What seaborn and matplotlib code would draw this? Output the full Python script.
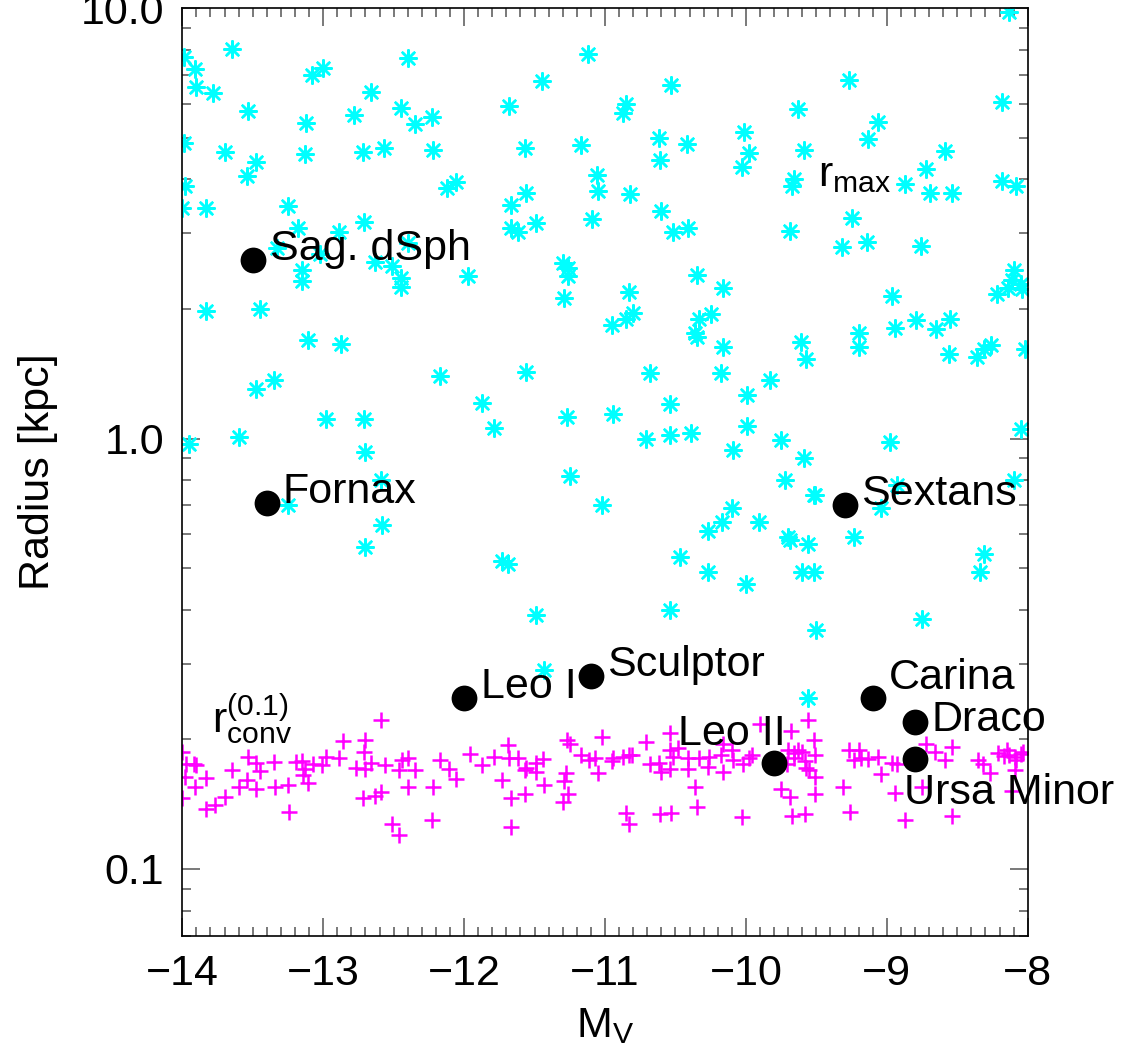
import numpy as np
import pandas as pd
import matplotlib
matplotlib.use("Agg")
import matplotlib.pyplot as plt
from matplotlib.ticker import MultipleLocator, LogLocator, FormatStrFormatter, NullFormatter
import seaborn as sns

# Halo r_max values: absolute magnitude M_V and radius in kpc
rmax_mv = [
    -13.99, -13.91, -13.65, -13.90, -13.78, -13.53, -13.08, -13.00, -12.40, -12.66,
    -13.12, -12.78, -12.45, -12.35, -12.23, -13.99, -13.70, -13.48, -13.54, -13.13,
    -12.72, -12.57, -12.22, -13.98, -14.00, -13.83, -13.25, -12.12, -12.06, -13.18,
    -12.89, -12.71, -13.33, -13.02, -12.40, -12.63, -12.51, -13.15, -13.15, -12.45,
    -12.45, -11.97, -13.83, -13.45, -13.11, -12.87,
    -11.12, -11.45, -10.53, -11.68, -10.85, -10.87, -10.01, -11.57, -11.17, -10.62,
    -10.42, -10.61, -9.98, -10.03, -11.06, -11.05, -11.56, -11.67, -10.82, -10.60,
    -11.67, -11.62, -11.49, -11.09, -10.52, -10.41, -11.30, -11.26, -11.26, -11.29,
    -10.83, -10.35, -10.16, -10.95, -10.85, -10.80, -10.33, -10.25, -10.36, -10.35,
    -10.16,
    -8.13, -9.27, -9.63, -8.18, -9.06, -9.13, -9.59, -8.59, -9.66, -9.67,
    -8.72, -8.87, -8.69, -8.54, -8.18, -8.08, -9.25, -9.69, -9.32, -9.14,
    -8.76, -8.96, -8.10, -8.11, -8.05, -8.14, -8.22, -8.04, -9.61, -9.57,
    -9.20, -9.20, -8.94, -8.79, -8.55, -8.65, -8.56, -8.36, -8.31, -8.26,
    -8.02,
    -13.35, -13.48, -12.17, -12.98, -12.71, -13.60, -13.95, -12.70, -12.59, -13.25,
    -12.58, -12.70,
    -11.56, -10.68, -10.18, -11.87, -11.79, -11.27, -10.94, -10.54, -10.71, -10.54,
    -10.39, -9.99, -9.99, -10.09, -11.25, -11.02, -10.10, -10.17, -10.27, -11.73,
    -11.69, -10.47, -10.27, -10.00, -11.49, -10.54, -11.43,
    -9.83, -9.75, -8.98, -9.59, -8.05, -9.72, -9.52, -9.51, -8.93, -9.04,
    -8.10, -9.91, -9.70, -9.69, -9.56, -9.23, -8.31, -8.34, -9.60, -9.52,
    -8.75, -9.50, -9.56,
]
rmax_kpc = [
    7.71, 7.21, 8.03, 6.57, 6.34, 5.77, 6.99, 7.24, 7.66, 6.37,
    5.40, 5.64, 5.87, 5.38, 5.59, 4.85, 4.64, 4.40, 4.08, 4.58,
    4.64, 4.72, 4.68, 3.85, 3.43, 3.44, 3.47, 3.81, 3.95, 3.09,
    3.02, 3.19, 2.77, 2.69, 2.84, 2.57, 2.51, 2.46, 2.32, 2.36,
    2.25, 2.38, 1.98, 2.00, 1.69, 1.66,
    7.81, 6.78, 6.62, 5.92, 5.97, 5.71, 5.16, 4.74, 4.81, 5.00,
    4.82, 4.44, 4.60, 4.28, 4.09, 3.76, 3.72, 3.49, 3.70, 3.38,
    3.09, 3.01, 3.16, 3.24, 3.01, 3.09, 2.55, 2.49, 2.39, 2.12,
    2.19, 2.40, 2.24, 1.84, 1.90, 1.96, 1.89, 1.95, 1.76, 1.72,
    1.63,
    9.80, 6.80, 5.83, 6.06, 5.44, 4.96, 4.68, 4.66, 4.01, 3.86,
    4.23, 3.90, 3.72, 3.72, 3.96, 3.85, 3.26, 3.03, 2.79, 2.86,
    2.80, 2.14, 2.46, 2.33, 2.29, 2.24, 2.17, 2.22, 1.68, 1.53,
    1.76, 1.63, 1.81, 1.88, 1.89, 1.80, 1.57, 1.55, 1.61, 1.65,
    1.61,
    1.37, 1.30, 1.40, 1.11, 1.11, 1.01, 0.97, 0.93, 0.80, 0.70,
    0.63, 0.56,
    1.43, 1.42, 1.42, 1.21, 1.06, 1.12, 1.14, 1.20, 1.00, 1.02,
    1.03, 1.26, 1.07, 0.94, 0.82, 0.70, 0.69, 0.64, 0.61, 0.52,
    0.51, 0.53, 0.49, 0.46, 0.39, 0.40, 0.29,
    1.37, 0.99, 0.98, 0.90, 1.05, 0.80, 0.74, 0.74, 0.78, 0.69,
    0.80, 0.64, 0.59, 0.58, 0.57, 0.59, 0.54, 0.49, 0.49, 0.49,
    0.38, 0.36, 0.25,
]

# Convergence radii r_conv^(0.1): M_V and radius in kpc
rconv_mv = [
    -14.00, -13.97, -13.92, -13.90, -13.98, -13.83, -13.91, -14.00, -13.83, -13.77,
    -13.70, -13.65, -13.60, -13.54, -13.53, -13.48, -13.45, -13.48, -13.35, -13.34,
    -13.25, -13.24, -13.19, -13.15, -13.13, -13.14, -13.11, -13.07, -13.01, -12.98,
    -12.89, -12.86, -12.77, -12.70, -12.71, -12.70, -12.66, -12.59, -12.56, -12.72,
    -12.63, -12.59, -12.51, -12.46, -12.46, -12.44, -12.40, -12.40, -12.35, -12.22,
    -12.23, -12.17, -12.11, -12.06,
    -11.96, -11.87, -11.79, -11.69, -11.68, -11.62, -11.56, -11.49, -11.44, -11.49,
    -11.57, -11.73, -11.67, -11.57, -11.67, -11.43, -11.27, -11.25, -11.28, -11.29,
    -11.26, -11.30, -11.02, -11.17, -11.11, -11.07, -11.05, -10.95, -10.94, -10.87,
    -10.83, -10.81, -10.71, -10.68, -10.62, -10.60, -10.54, -10.54, -10.54, -10.48,
    -10.52, -10.41, -10.41, -10.33, -10.27, -10.26, -10.18, -10.16, -10.10, -10.09,
    -10.02, -10.36, -10.35, -10.85, -10.83, -10.61, -10.53, -10.03, -10.16,
    -9.90, -9.98, -9.96, -9.68, -9.56, -9.52, -9.70, -9.66, -9.63, -9.60,
    -9.66, -9.58, -9.51, -9.57, -9.55, -9.51, -9.75, -9.69, -9.51, -9.67,
    -9.58, -9.71, -9.31, -9.26, -9.27, -9.20, -9.23, -9.18, -9.13, -9.06,
    -9.04, -8.96, -8.93, -8.94, -8.87, -8.72, -8.75, -8.66, -8.59, -8.54,
    -8.54, -8.35, -8.32, -8.27, -8.21, -8.15, -8.13, -8.09, -8.05, -8.08,
    -8.09, -8.11, -8.03, -8.17,
]
rconv_kpc = [
    0.187, 0.175, 0.175, 0.174, 0.164, 0.163, 0.155, 0.146, 0.138, 0.141,
    0.147, 0.170, 0.155, 0.161, 0.182, 0.176, 0.169, 0.153, 0.177, 0.155,
    0.157, 0.136, 0.177, 0.178, 0.171, 0.165, 0.158, 0.175, 0.174, 0.182,
    0.181, 0.198, 0.172, 0.199, 0.187, 0.171, 0.176, 0.222, 0.174, 0.146,
    0.148, 0.151, 0.127, 0.120, 0.170, 0.179, 0.181, 0.155, 0.170, 0.155,
    0.130, 0.179, 0.171, 0.162,
    0.185, 0.174, 0.182, 0.194, 0.181, 0.181, 0.172, 0.176, 0.180, 0.168,
    0.170, 0.161, 0.146, 0.149, 0.125, 0.157, 0.199, 0.195, 0.167, 0.160,
    0.149, 0.143, 0.203, 0.184, 0.179, 0.181, 0.167, 0.178, 0.181, 0.182,
    0.184, 0.184, 0.197, 0.175, 0.176, 0.168, 0.171, 0.207, 0.189, 0.191,
    0.182, 0.171, 0.181, 0.181, 0.173, 0.182, 0.184, 0.168, 0.189, 0.179,
    0.175, 0.155, 0.139, 0.135, 0.127, 0.134, 0.135, 0.132, 0.195,
    0.217, 0.181, 0.184, 0.209, 0.222, 0.199, 0.189, 0.186, 0.189, 0.187,
    0.181, 0.178, 0.184, 0.172, 0.170, 0.164, 0.153, 0.147, 0.149, 0.133,
    0.134, 0.175, 0.155, 0.136, 0.189, 0.189, 0.179, 0.181, 0.180, 0.182,
    0.166, 0.176, 0.175, 0.150, 0.130, 0.195, 0.155, 0.187, 0.179, 0.192,
    0.133, 0.179, 0.175, 0.167, 0.186, 0.189, 0.184, 0.182, 0.185, 0.179,
    0.170, 0.152, 0.187, 0.183,
]

# Milky Way dwarf spheroidals
dwarf_names = ["Sag. dSph", "Fornax", "Leo I", "Sculptor", "Leo II",
               "Sextans", "Carina", "Draco", "Ursa Minor"]
dwarf_mv = [-13.5, -13.4, -12.0, -11.1, -9.8, -9.3, -9.1, -8.8, -8.8]
dwarf_r = [2.6, 0.71, 0.25, 0.28, 0.176, 0.70, 0.25, 0.22, 0.18]

# label placement (pixel offsets from the marker, horizontal alignment)
label_place = {
    "Sag. dSph": (17, 0, "left"),
    "Fornax": (16, 0, "left"),
    "Leo I": (17, 0, "left"),
    "Sculptor": (16, 0, "left"),
    "Leo II": (12, 18, "right"),
    "Sextans": (16, 0, "left"),
    "Carina": (16, 9, "left"),
    "Draco": (17, -9, "left"),
    "Ursa Minor": (-11, -45, "left"),
}

sns.set_theme(style="white")
plt.rcParams["font.family"] = ["Liberation Sans", "DejaVu Sans"]
plt.rcParams["mathtext.default"] = "regular"
plt.rcParams["axes.unicode_minus"] = True
plt.rcParams["text.color"] = "black"
plt.rcParams["axes.labelcolor"] = "black"
plt.rcParams["xtick.labelcolor"] = "black"
plt.rcParams["ytick.labelcolor"] = "black"

FS = 31

fig = plt.figure(figsize=(11.47, 10.55), dpi=100)
fig.patch.set_facecolor("white")
ax = fig.add_axes([0.1589, 0.1131, 0.7371, 0.8793])
ax.set_facecolor("white")

rmax_df = pd.DataFrame({"mv": rmax_mv, "r": rmax_kpc})
rconv_df = pd.DataFrame({"mv": rconv_mv, "r": rconv_kpc})
dwarf_df = pd.DataFrame({"mv": dwarf_mv, "r": dwarf_r, "name": dwarf_names})

sns.scatterplot(data=rmax_df, x="mv", y="r", ax=ax, marker=(8, 2, 0),
                color="#00ffff", s=140, linewidth=1.8, zorder=2, legend=False)
sns.scatterplot(data=rconv_df, x="mv", y="r", ax=ax, marker="+",
                color="#ff00ff", s=125, linewidth=1.8, zorder=2, legend=False)
sns.scatterplot(data=dwarf_df, x="mv", y="r", ax=ax, marker="o",
                color="black", edgecolor="black", s=345, linewidth=0,
                zorder=4, legend=False)

for name, mv, r in zip(dwarf_names, dwarf_mv, dwarf_r):
    dx, dy, ha = label_place[name]
    ax.annotate(name, (mv, r), xytext=(dx, dy), textcoords="offset pixels",
                ha=ha, va="baseline", fontsize=FS, color="black", zorder=5)

ax.text(-9.49, 3.85, r"$r_{max}$", fontsize=FS, ha="left", va="baseline",
        color="black")
ax.text(-13.79, 0.207, r"$r^{(0.1)}_{conv}$", fontsize=FS, ha="left",
        va="baseline", color="black")

ax.set_yscale("log")
ax.set_xlim(-14, -8)
ax.set_ylim(0.07, 10)
ax.set_xticks([-14, -13, -12, -11, -10, -9, -8])
ax.xaxis.set_minor_locator(MultipleLocator(0.1))
ax.set_yticks([0.1, 1.0, 10.0])
ax.yaxis.set_major_formatter(FormatStrFormatter("%.1f"))
ax.yaxis.set_minor_locator(LogLocator(base=10, subs=np.arange(2, 10)))
ax.yaxis.set_minor_formatter(NullFormatter())

ax.tick_params(which="both", direction="in", top=True, right=True,
               bottom=True, left=True, color="#555555", width=1.1,
               labelcolor="black")
ax.tick_params(which="major", length=13, labelsize=FS, pad=13)
ax.tick_params(which="minor", length=6.5)
for sp in ax.spines.values():
    sp.set_color("black")
    sp.set_linewidth(1.2)

ax.set_xlabel(r"$M_V$", fontsize=FS, labelpad=9, color="black")
ax.set_ylabel("Radius [kpc]", fontsize=FS, labelpad=16, color="black")
ax.grid(False)

fig.savefig("out.png", dpi=100, facecolor="white")
